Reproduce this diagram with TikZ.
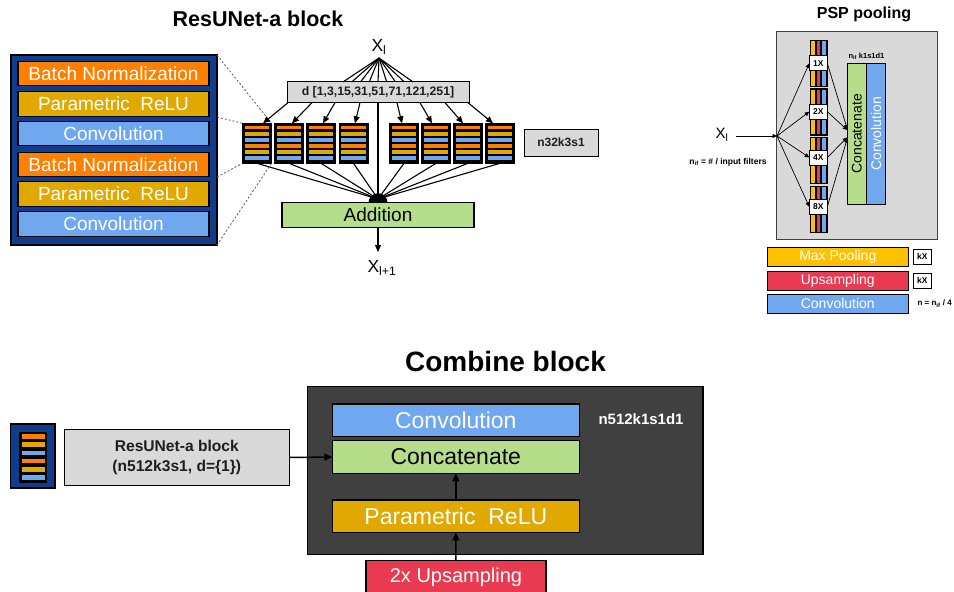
\documentclass[tikz,border=0pt]{standalone}
\usepackage{fontspec}
\setmainfont{Liberation Sans}
\usetikzlibrary{arrows.meta,calc}
\definecolor{navy}{RGB}{16,60,140}
\definecolor{bnor}{RGB}{255,128,0}
\definecolor{prel}{RGB}{224,168,0}
\definecolor{convb}{RGB}{112,168,240}
\definecolor{addg}{RGB}{181,221,138}
\definecolor{lgray}{RGB}{217,217,217}
\definecolor{dgray}{RGB}{64,64,64}
\definecolor{upred}{RGB}{232,58,80}
\definecolor{mpy}{RGB}{255,192,0}
\definecolor{txt}{RGB}{30,30,30}
\definecolor{dashc}{RGB}{90,90,90}
\newcommand{\myfs}[1]{\fontsize{#1}{#1}\selectfont}
\begin{document}
\begin{tikzpicture}[x=1pt,y=-1pt,
 bx/.style={draw=black,line width=1.2pt,inner sep=0pt,outer sep=0pt,align=center},
 layer/.style={bx,minimum width=191pt,minimum height=24.5pt,text=white,font=\myfs{19}},
 stk/.style={draw=black,fill=black,line width=0.8pt,minimum width=29pt,minimum height=40pt,inner sep=0pt,outer sep=0pt},
 gstk/.style={draw=black,fill=black,line width=0.6pt,minimum width=17pt,minimum height=46.5pt,inner sep=0pt,outer sep=0pt},
 lab/.style={draw=black,fill=white,line width=0.7pt,minimum width=18pt,minimum height=15pt,inner sep=0pt,outer sep=0pt,font=\bfseries\myfs{8.5}},
 con/.style={line width=1.1pt},
 arr/.style={con,-{Triangle[length=7pt,width=6pt]}},
 barr/.style={line width=1.5pt,-{Triangle[length=8pt,width=7pt]}},
 parr/.style={line width=0.7pt,-{Triangle[length=4.5pt,width=4pt]}},
 dsh/.style={draw=dashc,line width=0.8pt,dash pattern=on 2pt off 2pt},
 leg/.style={bx,line width=1pt,minimum width=141pt,minimum height=19pt,text=white,font=\myfs{14}}
]
\useasboundingbox (0,0) rectangle (954,592);

% ---------------- ResUNet-a block ----------------
\node[font=\bfseries\myfs{21.5}] (t1) at (258,19) {ResUNet-a block};
\node[bx,fill=navy,minimum width=206pt,minimum height=190pt] (lbox) at (114,150) {};
\node[layer,fill=bnor] (bn1) at (113.5,73.5) {Batch Normalization};
\node[layer,fill=prel] (pr1) at (113.5,104) {Parametric\ \ ReLU};
\node[layer,fill=convb] (cv1) at (113.5,133.5) {Convolution};
\node[layer,fill=bnor] (bn2) at (113.5,164.5) {Batch Normalization};
\node[layer,fill=prel] (pr2) at (113.5,194) {Parametric\ \ ReLU};
\node[layer,fill=convb] (cv2) at (113.5,224) {Convolution};

\node[font=\myfs{17.5}] (xl) at (379,47) {X\textsubscript{l}};
\node[bx,fill=lgray,line width=1pt,minimum width=182pt,minimum height=20.7pt,text=txt,font=\bfseries\myfs{12.3}] (dbox) at (378,92.3) {d [1,3,15,31,51,71,121,251]};
\node[bx,fill=lgray,line width=1pt,minimum width=74pt,minimum height=27pt,text=txt,font=\bfseries\myfs{12}] (n32) at (561,142.5) {n32k3s1};

\foreach \i/\cx in {1/257,2/289,3/321,4/353.5,5/404,6/436,7/468,8/500}{
  \node[stk] (s\i) at (\cx,143.3) {};
  \foreach \c [count=\k from 0] in {bnor,prel,convb,bnor,prel,convb}
    \fill[\c] ([xshift=2.3pt,yshift=-2.3pt-\k*6.15pt]s\i.north west) rectangle ++(24.4pt,-3.8pt);
}

\draw[dsh] (lbox.north east) -- (s1.north east);
\draw[dsh] ([yshift=-62pt]lbox.north east) -- (s1.north west);
\draw[dsh] ([yshift=-122pt]lbox.north east) -- (s1.south west);
\draw[dsh] (lbox.south east) -- (s1.south east);

\foreach \o in {-35,-26.25,...,35}
  \draw[con] (xl.south) -- ([xshift=\o pt]dbox.north);

\foreach \a/\b/\i in {-90/6/1,-66/3/2,-43/2/3,-18/1.5/4,19/-2/5,42/-4/6,67/-5/7,90/-7/8}
  \draw[arr] ([xshift=\a pt]dbox.south) -- ([xshift=\b pt]s\i.north);

\node[bx,fill=addg,minimum width=192pt,minimum height=25pt,font=\myfs{19}] (add) at (378,215.2) {Addition};
\coordinate (ap) at (378,199);
\foreach \i in {1,...,8}
  \draw[con] (s\i.south) -- (ap);
\draw[con] (dbox.south) -- (ap);
\fill ([xshift=-9.5pt]add.north) arc[start angle=180,end angle=0,radius=9.5pt];

\node[font=\myfs{17.5}] (xl1) at (382,268) {X\textsubscript{l+1}};
\coordinate (addout) at (378,252);
\draw[arr] (add.south) -- (addout);

% ---------------- PSP pooling ----------------
\node[font=\bfseries\myfs{16}] (t2) at (864,14) {PSP pooling};
\node[draw=dgray,fill=lgray,line width=1pt,minimum width=160.7pt,minimum height=208.3pt,inner sep=0pt,outer sep=0pt] (psp) at (857.3,135.8) {};
\foreach \i/\gy in {1/63.3,2/111.8,3/160.5,4/209.3}{
  \node[gstk] (g\i) at (818.5,\gy) {};
  \foreach \c [count=\k from 0] in {mpy,upred,convb}
    \fill[\c] ([xshift=1pt+\k*5.6pt,yshift=-1pt]g\i.north west) rectangle ++(3.8pt,-44.5pt);
}
\foreach \i/\ly/\t in {1/63.3/1X,2/111.7/2X,3/157.5/4X,4/206.8/8X}
  \node[lab] (l\i) at (818.3,\ly) {\t};

\node[bx,line width=0.8pt,fill=addg,minimum width=18.7pt,minimum height=141pt,font=\myfs{14}] (cc) at (856.7,133.8) {\rotatebox{90}{Concatenate}};
\node[bx,line width=0.8pt,fill=convb,minimum width=18.8pt,minimum height=141pt,text=white,font=\myfs{14}] (cv) at (876,133.8) {\rotatebox{90}{Convolution}};
\node[font=\bfseries\myfs{7.5}] (nif) at (866.5,56) {n\textsubscript{if} k1s1d1};

\node[font=\myfs{15}] (xl2) at (722,135) {X\textsubscript{l}};
\node[font=\bfseries\myfs{8.5}] (nin) at (728,162) {n\textsubscript{if} = \# / input filters};
\coordinate (pap) at (777,136);
\draw[parr,shorten <=4pt] (xl2.east |- pap) -- (pap);
\foreach \i in {1,...,4}
  \draw[parr] (pap) -- (l\i.west);
\foreach \i/\s in {1/4.5,2/3.8,3/-3.5,4/-4.5}
  \draw[parr] (l\i.east) -- ([yshift=\s pt]cc.west);

\node[leg,fill=mpy] (lmp) at (837.8,257.2) {Max Pooling};
\node[leg,fill=upred] (lup) at (837.8,280.5) {Upsampling};
\node[leg,fill=convb] (lcv) at (837.8,303.8) {Convolution};
\node[lab] (k1) at (922.3,256.5) {kX};
\node[lab] (k2) at (922.3,280.5) {kX};
\node[anchor=west,font=\bfseries\myfs{8}] (nq) at (914,303.8) {n = n\textsubscript{if} / 4};

% ---------------- Combine block ----------------
\node[font=\bfseries\myfs{28}] (t3) at (505.5,361) {Combine block};
\node[bx,fill=navy,minimum width=44.3pt,minimum height=64pt] (ic) at (32.8,456) {};
\node[fill=black,minimum width=28.3pt,minimum height=51.6pt,inner sep=0pt,outer sep=0pt] (ici) at (33.2,457.5) {};
\foreach \c [count=\k from 0] in {bnor,prel,convb,bnor,prel,convb}
  \fill[\c] ([xshift=2.7pt,yshift=-2.3pt-\k*8.25pt]ici.north west) rectangle ++(23.3pt,-4.7pt);

\node[bx,fill=lgray,minimum width=225pt,minimum height=55.3pt,text=txt,font=\bfseries\fontsize{15.6}{20}\selectfont] (rb) at (176.8,457.5) {ResUNet-a block\\(n512k3s1, d=\{1\})};
\node[bx,fill=dgray,minimum width=395.7pt,minimum height=167.6pt] (cb) at (505.2,470.5) {};
\node[bx,fill=convb,minimum width=247pt,minimum height=32.7pt,text=white,font=\myfs{23}] (bconv) at (455.8,420.3) {Convolution};
\node[bx,fill=addg,minimum width=247pt,minimum height=32.7pt,text=black,font=\myfs{23}] (bcat) at (455.8,457) {Concatenate};
\node[bx,fill=prel,minimum width=247pt,minimum height=32.3pt,text=white,font=\myfs{23}] (bpr) at (455.8,516.2) {Parametric\ \ ReLU};
\node[bx,fill=upred,minimum width=180pt,minimum height=34pt,text=white,font=\myfs{20}] (bup) at (456,577.7) {2x Upsampling};
\node[anchor=west,text=white,font=\bfseries\myfs{15}] (n512) at (595,418.7) {n512k1s1d1};

\draw[barr] (rb.east) -- (bcat.west);
\draw[barr] (bpr.north) -- (bcat.south);
\draw[barr] (bup.north) -- (bpr.south);
\end{tikzpicture}
\end{document}
